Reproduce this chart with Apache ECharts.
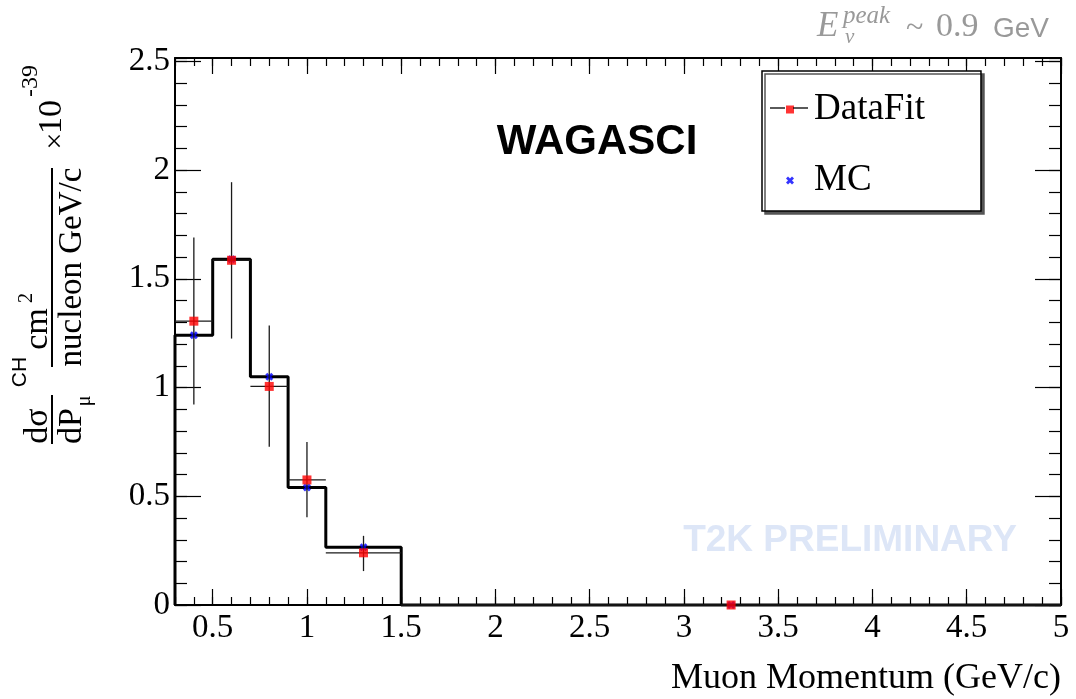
<!DOCTYPE html>
<html><head><meta charset="utf-8">
<script src="https://cdn.jsdelivr.net/npm/echarts@6/dist/echarts.min.js"></script>
<style>html,body{margin:0;padding:0;background:#fff;} #main{width:1076px;height:699px;}</style>
</head><body><div id="main"></div>
<script>
// ---- data ----
const binEdges = [0.3, 0.5, 0.7, 0.9, 1.1, 1.5, 5.0];
const mcValues = [1.24, 1.59, 1.05, 0.54, 0.265, 0];
const dataFitValues = [1.305, 1.585, 1.005, 0.575, 0.24, 0];
const dataFitErrLow = [0.922, 1.225, 0.728, 0.403, 0.156, 0];
const dataFitErrHigh = [1.69, 1.944, 1.285, 0.749, 0.318, 0];
const xTickLabels = [0.5, 1, 1.5, 2, 2.5, 3, 3.5, 4, 4.5, 5];
const yTickLabels = [0, 0.5, 1, 1.5, 2, 2.5];

const SERIF = '"Liberation Serif", "DejaVu Serif", serif';
const SANS = '"Liberation Sans", Arial, sans-serif';

const binCenters = binEdges.slice(0, -1).map((e, i) => (e + binEdges[i + 1]) / 2);
// step histogram points (left edges with bin value, plus final edge)
const histPoints = [[binEdges[0], 0]].concat(
  mcValues.map((v, i) => [binEdges[i], v]),
  [[binEdges[binEdges.length - 1], mcValues[mcValues.length - 1]]]
);
const mcPoints = mcValues.map((v, i) => [binCenters[i], v]);
const dataPoints = dataFitValues.map((v, i) => [binCenters[i], v]);
const errData = dataFitValues.map((v, i) => [binCenters[i], dataFitErrLow[i], dataFitErrHigh[i], binEdges[i], binEdges[i + 1], v]);

const lineBlack = { color: '#000', width: 2 };
function xAxisDef(pos, major, withLabels) {
  const a = {
    type: 'value', position: pos, min: 0.3, max: 5, gridIndex: 0,
    axisLine: { show: !major, onZero: false, lineStyle: lineBlack },
    axisTick: { show: true, inside: true, length: major ? 16 : 8, lineStyle: { color: '#000', width: 1.2 } },
    axisLabel: { show: false },
    splitLine: { show: false }
  };
  if (major) { a.axisTick.customValues = xTickLabels; } else { a.interval = 0.1; }
  if (withLabels) {
    a.axisLabel = { show: true, customValues: xTickLabels, margin: 7, fontFamily: SERIF, fontSize: 33, color: '#000' };
    a.name = 'Muon Momentum (GeV/c)';
    a.nameLocation = 'end';
    a.nameGap = 0;
    a.nameTextStyle = { fontFamily: SERIF, fontSize: 36, color: '#000', align: 'right', verticalAlign: 'top', padding: [56, 0, 0, 0] };
  }
  return a;
}
function yAxisDef(pos, major, withLabels) {
  const a = {
    type: 'value', position: pos, min: 0, max: 2.515, gridIndex: 0,
    axisLine: { show: !major, onZero: false, lineStyle: lineBlack },
    axisTick: { show: true, inside: true, length: major ? 26 : 12, lineStyle: { color: '#000', width: 1.2 } },
    axisLabel: { show: false },
    splitLine: { show: false }
  };
  if (major) { a.axisTick.customValues = yTickLabels; } else { a.interval = 0.1; }
  if (withLabels) {
    a.axisLabel = { show: true, customValues: yTickLabels, margin: 5, fontFamily: SERIF, fontSize: 33, color: '#000' };
  }
  return a;
}

function rt(text, x, y, size, family) {
  return {
    type: 'text', x: x, y: y, rotation: Math.PI / 2, z: 10,
    style: { text: text, font: size + 'px ' + (family || SERIF), fill: '#000', align: 'center', verticalAlign: 'middle' }
  };
}
function tx(text, x, y, font, fill, align) {
  return { type: 'text', x: x, y: y, z: 10, style: { text: text, font: font, fill: fill, align: align || 'left', verticalAlign: 'middle' } };
}
function vline(x, y1, y2, w) {
  return { type: 'line', z: 10, shape: { x1: x, y1: y1, x2: x, y2: y2 }, style: { stroke: '#000', lineWidth: w || 2 } };
}

const xPath = 'path://M0,2L2,0L4,2L6,0L8,2L6,4L8,6L6,8L4,6L2,8L0,6L2,4Z';

const chart = echarts.init(document.getElementById('main'), null, { renderer: 'canvas' });
chart.setOption({
  backgroundColor: '#fff',
  animation: false,
  grid: { left: 175, right: 15, top: 58, bottom: 94, containLabel: false },
  xAxis: [xAxisDef('bottom', false, true), xAxisDef('bottom', true, false), xAxisDef('top', false, false), xAxisDef('top', true, false)],
  yAxis: [yAxisDef('left', false, true), yAxisDef('left', true, false), yAxisDef('right', false, false), yAxisDef('right', true, false)],
  legend: {
    orient: 'vertical', left: 762, top: 71,
    padding: [20, 56, 12, 24], itemGap: 34, itemWidth: 38, itemHeight: 8,
    selectedMode: false,
    textStyle: { fontFamily: SERIF, fontSize: 37, color: '#000' },
    backgroundColor: '#fff', borderColor: '#000', borderWidth: 1.5,
    shadowColor: '#555', shadowOffsetX: 3, shadowOffsetY: 3, shadowBlur: 0.1,
    data: [
      { name: 'DataFit', icon: 'path://M0,0L8,0L8,8L0,8Z' },
      { name: 'MC', icon: xPath }
    ]
  },
  series: [
    {
      name: 'MC hist', type: 'line', step: 'end', data: histPoints, xAxisIndex: 0, yAxisIndex: 0,
      showSymbol: false, symbol: 'none', clip: false, z: 2,
      lineStyle: { color: '#000', width: 3 }, itemStyle: { color: '#000' }, silent: true
    },
    {
      name: 'MC', type: 'scatter', data: mcPoints, xAxisIndex: 0, yAxisIndex: 0,
      symbol: xPath, symbolSize: 8, clip: false, z: 3,
      itemStyle: { color: '#0000ff' }
    },
    {
      name: 'DataFit errors', type: 'custom', data: errData, xAxisIndex: 0, yAxisIndex: 0, clip: false, z: 4, silent: true,
      renderItem: function (params, api) {
        const c = api.value(0), lo = api.value(1), hi = api.value(2), x0 = api.value(3), x1 = api.value(4), v = api.value(5);
        const pLo = api.coord([c, lo]), pHi = api.coord([c, hi]);
        const pL = api.coord([x0, v]), pR = api.coord([x1, v]);
        const st = { stroke: '#1a1a1a', lineWidth: 1.3 };
        return {
          type: 'group', children: [
            { type: 'line', shape: { x1: pLo[0], y1: pLo[1], x2: pHi[0], y2: pHi[1] }, style: st },
            { type: 'line', shape: { x1: pL[0], y1: pL[1], x2: pR[0], y2: pR[1] }, style: st }
          ]
        };
      }
    },
    {
      name: 'DataFit', type: 'scatter', data: dataPoints, xAxisIndex: 0, yAxisIndex: 0,
      symbol: 'rect', symbolSize: 9, clip: false, z: 5,
      itemStyle: { color: '#ff0000' }
    }
  ],
  graphic: {
    elements: [
      // y-axis title
      rt('dσ', 38, 426, 34),
      rt('CH', 20, 372, 21, SANS),
      vline(52, 395, 444, 2),
      rt('dP', 72, 426, 34),
      rt('μ', 85, 401, 20),
      rt('cm', 38, 329, 34),
      rt('2', 27, 298, 20),
      vline(52, 168, 367, 2),
      rt('nucleon GeV/c', 72, 267, 33),
      rt('×', 56, 141, 30),
      rt('10', 52, 117, 34),
      rt('-39', 31, 81, 24),
      // top-right annotation
      tx('E', 817, 27, 'italic 35px ' + SERIF, '#999'),
      tx('peak', 843, 16, 'italic 25px ' + SERIF, '#999'),
      tx('ν', 845, 37, 'italic 21px ' + SERIF, '#999'),
      tx('~', 906, 29, '32px ' + SERIF, '#999'),
      tx('0.9', 936, 27, '34px ' + SERIF, '#999'),
      tx('GeV', 993, 29, '28px ' + SANS, '#999'),
      // labels
      tx('WAGASCI', 597, 142, 'bold 42px ' + SANS, '#000', 'center'),
      tx('T2K PRELIMINARY', 850, 541, 'bold 37px ' + SANS, '#dde6f7', 'center'),
      // legend line for DataFit
      { type: 'line', z: 10, shape: { x1: 770, y1: 108, x2: 785, y2: 108 }, style: { stroke: '#000', lineWidth: 1.3 } },
      { type: 'line', z: 10, shape: { x1: 793, y1: 108, x2: 808, y2: 108 }, style: { stroke: '#000', lineWidth: 1.3 } }
    ]
  }
});
</script>
</body></html>
